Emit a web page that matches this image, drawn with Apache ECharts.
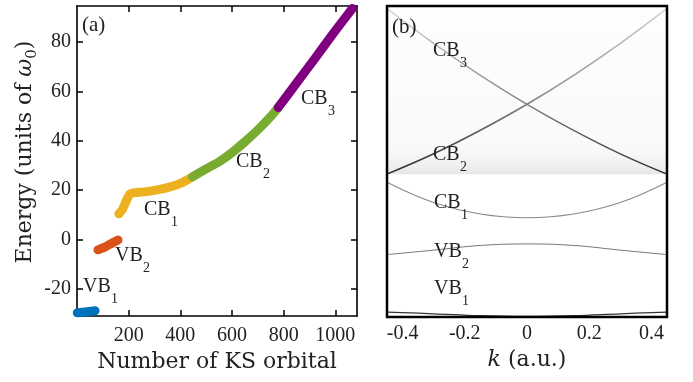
<!DOCTYPE html>
<html>
<head>
<meta charset="utf-8">
<script src="https://cdn.jsdelivr.net/npm/echarts@6/dist/echarts.min.js"></script>
<style>
  html, body { margin: 0; padding: 0; background: #fff; }
  #main { width: 693px; height: 382px; }
</style>
</head>
<body>
<div id="main"></div>
<script>
// (a) energy of each KS orbital
var vb1 = [[1, -29.7], [20, -29.5], [45, -29.2], [70, -28.9]];
var vb2 = [[81, -4.2], [95, -3.6], [113, -2.8], [135, -1.5], [159, -0.2]];
var cb1 = [[162, 10.4], [175, 12.0], [190, 15.5], [205, 18.5], [218, 18.9], [260, 19.3], [300, 19.9], [350, 21.0], [400, 22.7], [447, 25.4]];
var cb2 = [[447, 25.4], [500, 28.6], [550, 31.5], [600, 35.2], [650, 39.6], [700, 44.4], [750, 49.8], [779, 53.5]];
var cb3 = [[779, 53.5], [850, 63.4], [920, 73.2], [990, 83.2], [1066, 93.6]];

// (b) band dispersion E(k)
var kPts = [-0.45, -0.3, -0.15, 0, 0.15, 0.3, 0.45];
var bandVB1 = [-29.0, -29.7, -30.5, -30.8, -30.5, -29.7, -29.0];
var bandVB2 = [-5.8, -4.0, -2.1, -1.5, -2.1, -4.0, -5.8];
var bandCB1 = [23.4, 15.2, 10.6, 9.1, 10.6, 15.2, 23.4];
var bandCB2 = [26.7, 34.9, 44.4, 54.9, 66.6, 79.5, 93.6];
var bandCB3 = [93.6, 79.5, 66.6, 54.9, 44.4, 34.9, 26.7];

var xTicksA = [200, 400, 600, 800, 1000];
var yTicksA = [-20, 0, 20, 40, 60, 80];
var kTicks = [-0.4, -0.2, 0, 0.2, 0.4];

var eMin = -31, eMax = 94.6;
var nMin = 0, nMax = 1084;
var serif = 'Liberation Serif';
var titleFont = 'DejaVu Serif';
var ink = '#222';

function thick(data, color) {
  return {
    type: 'line', xAxisIndex: 0, yAxisIndex: 0, data: data,
    showSymbol: false, smooth: 0.2, clip: false, silent: true,
    lineStyle: { width: 9, color: color, cap: 'round', join: 'round' }
  };
}

function band(vals, color, width) {
  return {
    type: 'line', xAxisIndex: 2, yAxisIndex: 2,
    data: kPts.map(function (k, i) { return [k, vals[i]]; }),
    showSymbol: false, smooth: 0.4, silent: true,
    lineStyle: { width: width, color: color }
  };
}

function fade() {
  return new echarts.graphic.LinearGradient(0, 0, 0, 1, [
    { offset: 0, color: '#d4d4d4' },
    { offset: 0.5, color: '#8e8e8e' },
    { offset: 1, color: '#2a2a2a' }
  ]);
}

function txt(x, y, s, size) {
  return {
    type: 'text', x: x, y: y, z: 50, silent: true,
    style: { text: s, fontSize: size, fontFamily: serif, fill: ink, align: 'left', verticalAlign: 'middle' }
  };
}

// band name with subscript: main text at (x, y), subscript shifted
function bandName(x, y, main, sub) {
  var w = main === 'CB' ? 27 : 28;
  return [txt(x, y, main, 20), txt(x + w, y + 12, sub, 14)];
}

var labels = [].concat(
  bandName(301, 99, 'CB', '3'),
  bandName(236, 162, 'CB', '2'),
  bandName(144, 210, 'CB', '1'),
  bandName(115, 256, 'VB', '2'),
  bandName(83, 287, 'VB', '1'),
  bandName(433, 51, 'CB', '3'),
  bandName(433, 155, 'CB', '2'),
  bandName(434, 203, 'CB', '1'),
  bandName(434, 252, 'VB', '2'),
  bandName(434, 289, 'VB', '1'),
  [txt(82, 25, '(a)', 21), txt(392, 27, '(b)', 21)]
);

labels.push({
  type: 'text', x: 25, y: 152, rotation: Math.PI / 2, z: 50, silent: true,
  style: {
    text: '{n|Energy (units of }{w|ω}{s|0}{n|)}',
    align: 'center', verticalAlign: 'middle', fill: ink,
    rich: {
      n: { fontSize: 22, fontFamily: titleFont, lineHeight: 30, verticalAlign: 'middle', fill: ink },
      w: { fontSize: 22, fontFamily: titleFont, fontStyle: 'italic', lineHeight: 30, verticalAlign: 'middle', fill: ink },
      s: { fontSize: 15, fontFamily: titleFont, lineHeight: 15, verticalAlign: 'bottom', fill: ink }
    }
  }
});

// frame of panel (b)
labels.push({
  type: 'rect', z: 60, silent: true,
  shape: { x: 387, y: 6, width: 280, height: 311 },
  style: { fill: null, stroke: '#000', lineWidth: 2.5 }
});

var axisLineA = { show: true, onZero: false, lineStyle: { color: '#000', width: 1.6 } };
function tickA(vals) {
  return { show: true, inside: true, length: 6, customValues: vals, lineStyle: { color: '#000', width: 1.5 } };
}
var labelStyle = {
  fontSize: 20, fontFamily: serif, color: ink,
  formatter: function (v) { return String(v); }
};

var option = {
  animation: false,
  backgroundColor: '#fff',
  grid: [
    { left: 77, top: 6, width: 280, height: 310 },
    { left: 387, top: 6, width: 280, height: 311 }
  ],
  xAxis: [
    {
      gridIndex: 0, type: 'value', min: nMin, max: nMax, position: 'bottom',
      axisLine: axisLineA, axisTick: tickA(xTicksA), splitLine: { show: false },
      axisLabel: Object.assign({ customValues: xTicksA, margin: 10 }, labelStyle),
      name: 'Number of KS orbital', nameLocation: 'middle', nameGap: 31,
      nameTextStyle: { fontSize: 22, fontFamily: titleFont, color: ink }
    },
    {
      gridIndex: 0, type: 'value', min: nMin, max: nMax, position: 'top',
      axisLine: axisLineA, axisTick: tickA(xTicksA), splitLine: { show: false },
      axisLabel: { show: false, customValues: xTicksA }
    },
    {
      gridIndex: 1, type: 'value', min: -0.45, max: 0.45, position: 'bottom',
      axisLine: { show: false }, axisTick: { show: false }, splitLine: { show: false },
      axisLabel: Object.assign({ customValues: kTicks, margin: 7 }, labelStyle),
      name: '{i|k} (a.u.)', nameLocation: 'middle', nameGap: 22,
      nameTextStyle: {
        fontSize: 22, fontFamily: titleFont, color: ink,
        rich: { i: { fontSize: 22, fontFamily: titleFont, fontStyle: 'italic', color: ink } }
      }
    }
  ],
  yAxis: [
    {
      gridIndex: 0, type: 'value', min: eMin, max: eMax, position: 'left',
      axisLine: axisLineA, axisTick: tickA(yTicksA), splitLine: { show: false },
      axisLabel: Object.assign({ customValues: yTicksA, margin: 6 }, labelStyle)
    },
    {
      gridIndex: 0, type: 'value', min: eMin, max: eMax, position: 'right',
      axisLine: axisLineA, axisTick: tickA(yTicksA), splitLine: { show: false },
      axisLabel: { show: false, customValues: yTicksA }
    },
    {
      gridIndex: 1, type: 'value', min: eMin, max: eMax, show: false
    }
  ],
  series: [
    thick(vb1, '#0072BD'),
    thick(vb2, '#D95319'),
    thick(cb1, '#EDB120'),
    thick(cb2, '#77AC30'),
    thick(cb3, '#800080'),
    Object.assign(band(bandCB2, fade(), 1.6), {
      markArea: {
        silent: true,
        itemStyle: {
          color: new echarts.graphic.LinearGradient(0, 0, 0, 1, [
            { offset: 0, color: '#fefefe' },
            { offset: 0.85, color: '#f9f9f9' },
            { offset: 0.96, color: '#efefef' },
            { offset: 1, color: '#e6e6e6' }
          ])
        },
        data: [[{ yAxis: bandCB2[0] }, { yAxis: eMax }]]
      }
    }),
    band(bandCB3, fade(), 1.4),
    band(bandCB1, '#8a8a8a', 1.1),
    band(bandVB2, '#777', 1.0),
    band(bandVB1, '#333', 1.3)
  ],
  graphic: labels
};

var chart = echarts.init(document.getElementById('main'), null, { renderer: 'canvas' });
chart.setOption(option);
</script>
</body>
</html>
